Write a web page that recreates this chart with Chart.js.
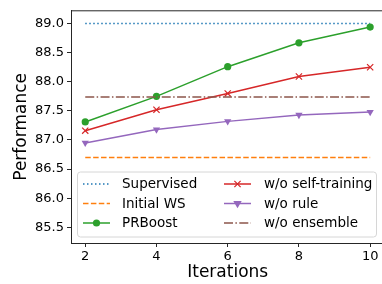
<!DOCTYPE html>
<html>
<head>
<meta charset="utf-8">
<title>Performance vs Iterations</title>
<script src="https://cdn.jsdelivr.net/npm/chart.js@4/dist/chart.umd.min.js"></script>
<style>
	html, body { margin: 0; padding: 0; background: #fff; overflow: hidden; }
	canvas { display: block; }
</style>
</head>
<body>
<canvas id="chart" width="390" height="284"></canvas>
<script>

// values
var iterations				 =	[2, 4, 6, 8, 10];
var supervised				 =	[89.00, 89.00, 89.00, 89.00, 89.00];
var initialWS				 =	[86.70, 86.70, 86.70, 86.70, 86.70];
var prBoost					 =	[87.31, 87.75, 88.26, 88.67, 88.94];
var woSelfTraining			 =	[87.16, 87.52, 87.80, 88.09, 88.25];
var woRule					 =	[86.95, 87.18, 87.32, 87.43, 87.48];
var woEnsemble				 =	[87.74, 87.74, 87.74, 87.74, 87.74];
var seriesLabels			 =	["Supervised", "Initial WS", "PRBoost", "w/o self-training", "w/o rule", "w/o ensemble"];
var xTicks					 =	[2, 4, 6, 8, 10];
var yTicks					 =	[85.5, 86.0, 86.5, 87.0, 87.5, 88.0, 88.5, 89.0];

var FONT					 =	"'DejaVu Sans', sans-serif";

document.addEventListener("DOMContentLoaded", function () {
	
	renderChart();
	
});

/**
 * Pairs iterations with a series
 */
function points(values) {
	
	return iterations.map(function (x, i) {
		return { x: x, y: values[i] };
	});
	
}

/**
 * Draws one marker, used by the legend
 */
function drawMarker(ctx, style, x, y, color) {
	
	ctx.save();
	ctx.fillStyle				 =	color;
	ctx.strokeStyle				 =	color;
	ctx.setLineDash([]);
	
	if (style.marker === "circle") {
		
		ctx.beginPath();
		ctx.arc(x, y, style.radius, 0, Math.PI * 2);
		ctx.fill();
		
	} else if (style.marker === "crossRot") {
		
		var r					 =	style.radius * Math.SQRT1_2;
		ctx.lineWidth			 =	style.markerWidth;
		ctx.beginPath();
		ctx.moveTo(x - r, y - r);
		ctx.lineTo(x + r, y + r);
		ctx.moveTo(x + r, y - r);
		ctx.lineTo(x - r, y + r);
		ctx.stroke();
		
	} else if (style.marker === "triangle") {
		
		var s					 =	style.radius;
		ctx.beginPath();
		ctx.moveTo(x - s, y - s * 0.58);
		ctx.lineTo(x + s, y - s * 0.58);
		ctx.lineTo(x, y + s * 1.15);
		ctx.closePath();
		ctx.fill();
		
	}
	
	ctx.restore();
	
}

/**
 * Renders the chart
 */
function renderChart() {
	
	var seriesValues			 =	[supervised, initialWS, prBoost, woSelfTraining, woRule, woEnsemble];
	var styles					 =	[
		{ color: "#1f77b4", dash: [1.5, 2.5],				marker: null },
		{ color: "#ff7f0e", dash: [5.5, 2.4],				marker: null },
		{ color: "#2ca02c", dash: [],						marker: "circle",	radius: 3.6 },
		{ color: "#d62728", dash: [],						marker: "crossRot",	radius: 4.4, markerWidth: 1.2 },
		{ color: "#9467bd", dash: [],						marker: "triangle",	radius: 4.2 },
		{ color: "#8c564b", dash: [9, 2.4, 1.5, 2.4],		marker: null },
	];
	
	var datasets				 =	seriesValues.map(function (values, i) {
		
		var style				 =	styles[i];
		
		return {
			label				 :	seriesLabels[i],
			data				 :	points(values),
			borderColor			 :	style.color,
			backgroundColor		 :	style.color,
			borderWidth			 :	1.5,
			borderDash			 :	style.dash,
			pointStyle			 :	style.marker || false,
			pointRadius			 :	style.marker ? style.radius : 0,
			pointRotation		 :	style.marker === "triangle" ? 180 : 0,
			pointBorderWidth	 :	style.marker === "crossRot" ? style.markerWidth : 0,
			pointBorderColor	 :	style.color,
			pointBackgroundColor :	style.color,
			tension				 :	0,
			fill				 :	false,
			order				 :	seriesValues.length - i,
		};
		
	});
	
	/**
	 * Matplotlib style legend inside the axes, two columns, plus the top spine
	 */
	var insideLegend			 =	{
		id						 :	"insideLegend",
		afterDraw				 :	function (chart) {
			
			var ctx				 =	chart.ctx;
			var area			 =	chart.chartArea;
			
			// top spine
			ctx.save();
			ctx.strokeStyle		 =	"#262626";
			ctx.lineWidth		 =	1;
			ctx.beginPath();
			ctx.moveTo(area.left, area.top);
			ctx.lineTo(area.right, area.top);
			ctx.stroke();
			ctx.restore();
			
			// legend frame
			var box				 =	{ x: 77.5, y: 172, w: 299, h: 65 };
			ctx.save();
			ctx.fillStyle		 =	"rgba(255,255,255,0.8)";
			ctx.strokeStyle		 =	"#d6d6d6";
			ctx.lineWidth		 =	1;
			ctx.beginPath();
			if (ctx.roundRect) ctx.roundRect(box.x, box.y, box.w, box.h, 3);
			else ctx.rect(box.x, box.y, box.w, box.h);
			ctx.fill();
			ctx.stroke();
			ctx.restore();
			
			var columns			 =	[{ handle: 83, text: 122 }, { handle: 224, text: 264 }];
			var rows			 =	[184, 203.5, 223];
			var handleLength	 =	27;
			
			datasets.forEach(function (ds, i) {
				
				var col			 =	columns[Math.floor(i / 3)];
				var y			 =	rows[i % 3];
				var style		 =	styles[i];
				
				ctx.save();
				ctx.strokeStyle	 =	style.color;
				ctx.lineWidth	 =	1.5;
				ctx.setLineDash(style.dash);
				ctx.beginPath();
				ctx.moveTo(col.handle, y);
				ctx.lineTo(col.handle + handleLength, y);
				ctx.stroke();
				ctx.restore();
				
				if (style.marker) drawMarker(ctx, style, col.handle + handleLength / 2, y, style.color);
				
				ctx.save();
				ctx.fillStyle	 =	"#000";
				ctx.font		 =	"13.5px " + FONT;
				ctx.textBaseline =	"middle";
				ctx.textAlign	 =	"left";
				ctx.fillText(ds.label, col.text, y + 0.5);
				ctx.restore();
				
			});
			
		}
	};
	
	var config					 =	{
		type					 :	"line",
		data					 :	{ datasets: datasets },
		plugins					 :	[insideLegend],
		options					 :	{
			responsive			 :	false,
			animation			 :	false,
			devicePixelRatio	 :	1,
			layout				 :	{ padding: { top: 7.5, right: 5, left: 0, bottom: 0 } },
			plugins				 :	{
				legend			 :	{ display: false },
				tooltip			 :	{ enabled: false },
			},
			scales				 :	{
				x				 :	{
					type		 :	"linear",
					min			 :	1.6,
					max			 :	10.4,
					afterFit	 :	function (scale) { scale.height = 41; },
					afterBuildTicks : function (scale) {
						scale.ticks = xTicks.map(function (v) { return { value: v }; });
					},
					grid		 :	{ drawOnChartArea: false, drawTicks: true, tickLength: 4, tickColor: "#262626", tickWidth: 1 },
					border		 :	{ display: true, color: "#262626", width: 1 },
					ticks		 :	{
						color	 :	"#000",
						padding	 :	2,
						maxRotation : 0,
						font	 :	{ family: FONT, size: 13 },
						callback :	function (v) { return String(v); },
					},
					title		 :	{
						display	 :	true,
						text	 :	"Iterations",
						color	 :	"#000",
						font	 :	{ family: FONT, size: 17 },
						padding	 :	{ top: 0, bottom: 1 },
					},
				},
				y				 :	{
					min			 :	85.23,
					max			 :	89.22,
					afterFit	 :	function (scale) { scale.width = 71; },
					afterBuildTicks : function (scale) {
						scale.ticks = yTicks.map(function (v) { return { value: v }; });
					},
					grid		 :	{ drawOnChartArea: false, drawTicks: true, tickLength: 4, tickColor: "#262626", tickWidth: 1 },
					border		 :	{ display: true, color: "#262626", width: 1 },
					ticks		 :	{
						color	 :	"#000",
						padding	 :	3,
						font	 :	{ family: FONT, size: 13 },
						callback :	function (v) { return Number(v).toFixed(1); },
					},
					title		 :	{
						display	 :	true,
						text	 :	"Performance",
						color	 :	"#000",
						font	 :	{ family: FONT, size: 17 },
						padding	 :	{ top: 11, bottom: 0 },
					},
				},
			},
		},
	};
	
	new Chart(document.getElementById("chart"), config);
	
}

</script>
</body>
</html>
